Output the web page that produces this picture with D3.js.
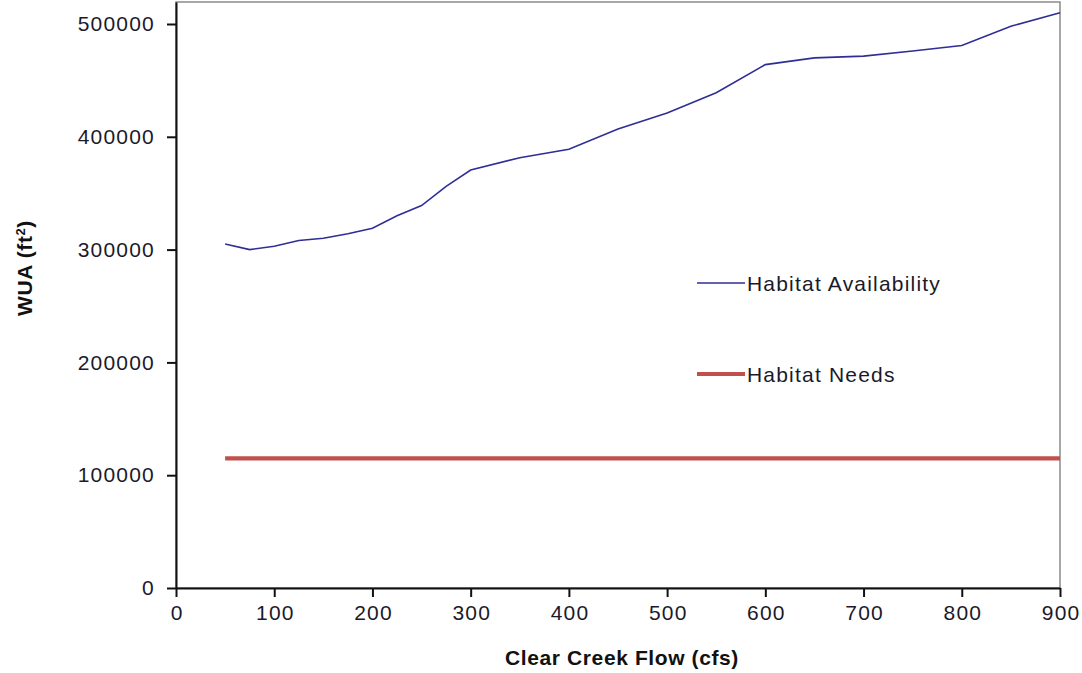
<!DOCTYPE html>
<meta charset="utf-8">
<title>Clear Creek Flow vs WUA</title>
<style>
    body { margin: 0; background: #fff; }
    text { font-family: "Liberation Sans", Arial, sans-serif; fill: #1a1a2a; }
    .tick text { font-size: 21px; letter-spacing: 1.2px; }
    .axis-title { font-size: 21px; font-weight: bold; letter-spacing: 0.6px; fill: #111; }
    .legend text { font-size: 21px; letter-spacing: 1.2px; }
</style>

<svg width="1082" height="673"></svg>

<script src="https://d3js.org/d3.v7.min.js"></script>
<script>

    // flow (cfs) and weighted usable area (ft2)
    var flows = [50, 75, 100, 125, 150, 175, 200, 225, 250, 275, 300, 350, 400, 450, 500, 550, 600, 650, 700, 750, 800, 850, 900];
    var availability = [305000, 300000, 303000, 308000, 310000, 314000, 319000, 330000, 339000, 356000, 370500, 381500, 389000, 407000, 421000, 439000, 464000, 470000, 471500, 476000, 481000, 498000, 510000];
    var needsFlows = [50, 900];
    var needs = [115000, 115000];

    var xTicks = [0, 100, 200, 300, 400, 500, 600, 700, 800, 900];
    var yTicks = [0, 100000, 200000, 300000, 400000, 500000];

    var svg = d3.select("svg");
    var plotLeft = 176, plotRight = 1060, plotTop = 2, plotBottom = 588;

    var x = d3.scaleLinear().domain([0, 900]).range([plotLeft, plotRight]);
    var y = d3.scaleLinear().domain([0, 519500]).range([plotBottom, plotTop]);

    // grey frame on top/right
    svg.append("rect")
        .attr("x", plotLeft).attr("y", plotTop)
        .attr("width", plotRight - plotLeft).attr("height", plotBottom - plotTop)
        .attr("fill", "none")
        .attr("stroke", "#8a8a8a")
        .attr("stroke-width", 1.5);

    var xAxis = svg.append("g")
        .attr("transform", "translate(0," + plotBottom + ")")
        .call(d3.axisBottom(x).tickValues(xTicks).tickSize(9).tickSizeOuter(0).tickPadding(8));

    var yAxis = svg.append("g")
        .attr("transform", "translate(" + plotLeft + ",0)")
        .call(d3.axisLeft(y).tickValues(yTicks).tickSize(9).tickSizeOuter(0).tickPadding(12).tickFormat(d3.format("d")));

    [xAxis, yAxis].forEach(function (g) {
        g.select(".domain").attr("stroke", "#111").attr("stroke-width", 2);
        g.selectAll(".tick line").attr("stroke", "#111").attr("stroke-width", 2);
        g.selectAll(".tick text").attr("fill", "#1a1a2a").style("font-family", "Liberation Sans, Arial, sans-serif");
    });
    xAxis.selectAll(".tick text").attr("dx", "0.6px");

    var line = d3.line()
        .x(function (d) { return x(d[0]); })
        .y(function (d) { return y(d[1]); });

    svg.append("path")
        .datum(needsFlows.map(function (f, i) { return [f, needs[i]]; }))
        .attr("fill", "none")
        .attr("stroke", "#c0504d")
        .attr("stroke-width", 4.2)
        .attr("d", line);

    svg.append("path")
        .datum(flows.map(function (f, i) { return [f, availability[i]]; }))
        .attr("fill", "none")
        .attr("stroke", "#2e2e96")
        .attr("stroke-width", 1.6)
        .attr("d", line);

    // legend
    var legend = svg.append("g").attr("class", "legend");
    var items = [
        { name: "Habitat Availability", color: "#2e2e96", width: 1.6, y: 283 },
        { name: "Habitat Needs", color: "#c0504d", width: 4.2, y: 374 }
    ];
    items.forEach(function (d) {
        legend.append("line")
            .attr("x1", 697).attr("x2", 745)
            .attr("y1", d.y).attr("y2", d.y)
            .attr("stroke", d.color)
            .attr("stroke-width", d.width);
        legend.append("text")
            .attr("x", 747).attr("y", d.y)
            .attr("dy", "0.36em")
            .text(d.name);
    });

    // axis titles
    svg.append("text")
        .attr("class", "axis-title")
        .attr("x", 622).attr("y", 665)
        .attr("text-anchor", "middle")
        .text("Clear Creek Flow (cfs)");

    var yt = svg.append("text")
        .attr("class", "axis-title")
        .attr("transform", "translate(32,268) rotate(-90)")
        .attr("text-anchor", "middle");
    yt.append("tspan").text("WUA (ft");
    yt.append("tspan").attr("baseline-shift", "super").style("font-size", "13px").text("2");
    yt.append("tspan").text(")");

</script>
